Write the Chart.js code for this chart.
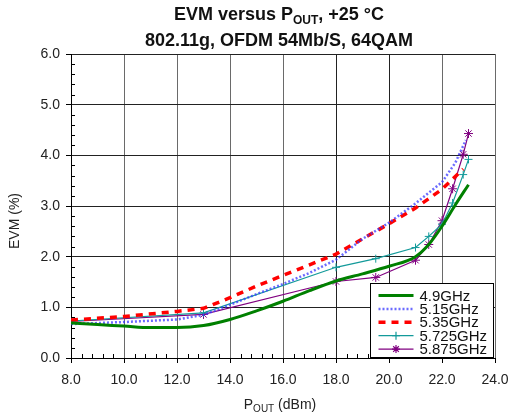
<!DOCTYPE html>
<html>
<head>
<meta charset="utf-8">
<script src="https://cdn.jsdelivr.net/npm/chart.js@4"></script>
<style>
  html, body { margin: 0; padding: 0; background: #fff; }
  #wrap { width: 509px; height: 417px; position: relative; }
</style>
</head>
<body>
<div id="wrap"><canvas id="evmChart"></canvas></div>
<script>
// EVM (%) vs Pout (dBm)
const seriesLabels = ['4.9GHz', '5.15GHz', '5.35GHz', '5.725GHz', '5.875GHz'];

const pout49 = [8, 9, 10, 11, 12, 13, 14, 15, 16, 17, 18, 19, 20, 21, 21.5, 22, 22.5, 23];
const evm49 = [0.69, 0.66, 0.63, 0.60, 0.60, 0.64, 0.76, 0.93, 1.12, 1.33, 1.52, 1.66, 1.81, 2.0, 2.24, 2.6, 3.02, 3.42];

const pout515 = [8, 10, 12, 13, 14, 15, 16, 17, 18, 19, 20, 21, 22, 22.5, 22.9];
const evm515 = [0.67, 0.71, 0.76, 0.85, 1.05, 1.26, 1.46, 1.68, 1.94, 2.35, 2.67, 3.05, 3.47, 3.85, 4.3];

const pout535 = [8, 10, 12, 13, 14, 15, 16, 17, 18, 19, 20, 21, 22, 22.8];
const evm535 = [0.75, 0.82, 0.92, 0.98, 1.19, 1.42, 1.63, 1.84, 2.05, 2.35, 2.65, 2.96, 3.33, 3.73];

const pout5725 = [8, 13, 18, 19.5, 21, 21.5, 22, 22.4, 22.8, 23];
const evm5725 = [0.73, 0.89, 1.79, 1.96, 2.18, 2.40, 2.64, 3.06, 3.62, 3.92];

const pout5875 = [8, 13, 18, 19.5, 21, 21.5, 22, 22.4, 22.8, 23];
const evm5875 = [0.72, 0.86, 1.51, 1.59, 1.93, 2.24, 2.71, 3.34, 4.02, 4.43];

const xTicks = [8, 10, 12, 14, 16, 18, 20, 22, 24];
const yTicks = [0, 1, 2, 3, 4, 5, 6];

const FONT = "'Liberation Sans', Arial, sans-serif";
Chart.defaults.font.family = FONT;

const toPoints = (xs, ys) => xs.map((x, i) => ({ x, y: ys[i] }));
const skipFirst = r => ctx => ctx.dataIndex === 0 ? 0 : r;

// draw a line of text where some parts are subscripts
function drawRich(ctx, parts, cx, baseline, size, bold) {
  const w = bold ? 'bold ' : '';
  const subSize = Math.round(size * 0.68);
  let total = 0;
  parts.forEach(p => {
    ctx.font = w + (p.sub ? subSize : size) + 'px ' + FONT;
    total += ctx.measureText(p.t).width;
  });
  let x = cx - total / 2;
  ctx.textAlign = 'left';
  ctx.textBaseline = 'alphabetic';
  parts.forEach(p => {
    ctx.font = w + (p.sub ? subSize : size) + 'px ' + FONT;
    ctx.fillText(p.t, x, baseline + (p.sub ? size * 0.22 : 0));
    x += ctx.measureText(p.t).width;
  });
}

const decorPlugin = {
  id: 'decor',
  afterDatasetsDraw(chart) {
    const { ctx, chartArea: a, scales: { x, y } } = chart;
    ctx.save();

    // minor ticks, pointing into the plot
    ctx.strokeStyle = '#000';
    ctx.lineWidth = 1;
    ctx.beginPath();
    for (let i = 1; i < 30; i++) {
      if (i % 5 === 0) continue;
      const py = Math.round(y.getPixelForValue(i * 0.2)) + 0.5;
      ctx.moveTo(a.left, py);
      ctx.lineTo(a.left + 4, py);
    }
    for (let i = 1; i < 40; i++) {
      if (i % 5 === 0) continue;
      const px = Math.round(x.getPixelForValue(8 + i * 0.4)) + 0.5;
      ctx.moveTo(px, a.bottom);
      ctx.lineTo(px, a.bottom - 4);
    }
    ctx.stroke();

    // legend box, lower right inside the plot
    const bw = 123, bh = 74;
    const bx = Math.round(a.right - 2 - bw) + 0.5;
    const by = Math.round(a.bottom - 1 - bh) + 0.5;
    ctx.fillStyle = '#fff';
    ctx.fillRect(bx, by, bw, bh);
    ctx.strokeStyle = '#000';
    ctx.setLineDash([]);
    ctx.strokeRect(bx, by, bw, bh);

    chart.data.datasets.forEach((ds, i) => {
      const ry = by + 12 + i * 13.4;
      const x0 = bx + 8, x1 = bx + 43;
      ctx.save();
      ctx.strokeStyle = ds.borderColor;
      ctx.lineWidth = ds.borderWidth;
      ctx.setLineDash(ds.borderDash || []);
      ctx.beginPath();
      ctx.moveTo(x0, ry);
      ctx.lineTo(x1, ry);
      ctx.stroke();
      ctx.setLineDash([]);
      if (ds.pointStyle) {
        ctx.strokeStyle = ds.pointBorderColor;
        ctx.fillStyle = ds.pointBorderColor;
        Chart.helpers.drawPoint(ctx, { pointStyle: ds.pointStyle, radius: 4, borderWidth: 1, rotation: 0 }, (x0 + x1) / 2, ry);
      }
      ctx.restore();
      ctx.fillStyle = '#111';
      ctx.font = '15px ' + FONT;
      ctx.textAlign = 'left';
      ctx.textBaseline = 'middle';
      ctx.fillText(ds.label, bx + 49, ry + 1);
    });
    ctx.restore();
  },
  afterDraw(chart) {
    const { ctx, chartArea: a } = chart;
    ctx.save();
    ctx.fillStyle = '#111';
    const cx = 279;
    drawRich(ctx, [{ t: 'EVM versus P' }, { t: 'OUT', sub: true }, { t: ', +25 °C' }], cx, 20, 18, true);
    drawRich(ctx, [{ t: '802.11g, OFDM 54Mb/S, 64QAM' }], cx, 46, 18, true);

    // x axis title
    ctx.fillStyle = '#222';
    drawRich(ctx, [{ t: 'P' }, { t: 'OUT', sub: true }, { t: ' (dBm)' }], (a.left + a.right) / 2 - 3, 409, 14, false);

    // y axis title
    ctx.translate(15, (a.top + a.bottom) / 2 + 15);
    ctx.rotate(-Math.PI / 2);
    ctx.font = '14px ' + FONT;
    ctx.textAlign = 'center';
    ctx.textBaseline = 'middle';
    ctx.fillText('EVM (%)', 0, 0);
    ctx.restore();
  }
};

function initChart() {
  const ctx = document.getElementById('evmChart').getContext('2d');
  new Chart(ctx, {
    type: 'line',
    data: {
      datasets: [{
        label: seriesLabels[0],
        data: toPoints(pout49, evm49),
        borderColor: '#008000',
        borderWidth: 3,
        pointRadius: 0,
        tension: 0.3,
        cubicInterpolationMode: 'monotone'
      }, {
        label: seriesLabels[1],
        data: toPoints(pout515, evm515),
        borderColor: 'rgba(58, 58, 255, 0.75)',
        borderWidth: 2.5,
        borderDash: [2, 2],
        pointRadius: 0
      }, {
        label: seriesLabels[2],
        data: toPoints(pout535, evm535),
        borderColor: '#ff0000',
        borderWidth: 3.5,
        borderDash: [7, 6],
        pointRadius: 0
      }, {
        label: seriesLabels[3],
        data: toPoints(pout5725, evm5725),
        borderColor: '#139a9a',
        borderWidth: 1.2,
        pointStyle: 'cross',
        pointRadius: skipFirst(4),
        pointBorderColor: '#139a9a',
        pointBorderWidth: 1
      }, {
        label: seriesLabels[4],
        data: toPoints(pout5875, evm5875),
        borderColor: '#800080',
        borderWidth: 1.2,
        pointStyle: 'star',
        pointRadius: skipFirst(4.5),
        pointBorderColor: '#800080',
        pointBorderWidth: 1
      }]
    },
    options: {
      responsive: true,
      maintainAspectRatio: false,
      animation: false,
      layout: { padding: { top: 54, right: 14, left: 0, bottom: 0 } },
      plugins: {
        legend: { display: false },
        title: { display: false },
        tooltip: { enabled: false }
      },
      scales: {
        x: {
          type: 'linear',
          min: 8,
          max: 24,
          afterFit: s => { s.height = 59; s.paddingLeft = 0; s.paddingRight = 0; },
          afterBuildTicks: s => { s.ticks = xTicks.map(v => ({ value: v })); },
          grid: {
            color: c => (c.tick && (c.tick.value === 18 || c.tick.value === 20)) ? '#222' : '#6a6a6a',
            tickColor: '#000',
            tickLength: 5
          },
          border: { color: '#000' },
          ticks: {
            color: '#222',
            font: { size: 14 },
            padding: 9,
            maxRotation: 0,
            callback: v => Number(v).toFixed(1)
          }
        },
        y: {
          min: 0,
          max: 6,
          afterFit: s => { s.width = 71; },
          afterBuildTicks: s => { s.ticks = yTicks.map(v => ({ value: v })); },
          grid: {
            color: '#222',
            tickColor: '#000',
            tickLength: 5
          },
          border: { color: '#000' },
          ticks: {
            color: '#222',
            font: { size: 14 },
            padding: 6,
            callback: v => Number(v).toFixed(1)
          }
        }
      }
    },
    plugins: [decorPlugin]
  });
}

window.addEventListener('load', () => {
  try {
    initChart();
  } catch (error) {
    console.error('Initialization error:', error);
  }
});
</script>
</body>
</html>
